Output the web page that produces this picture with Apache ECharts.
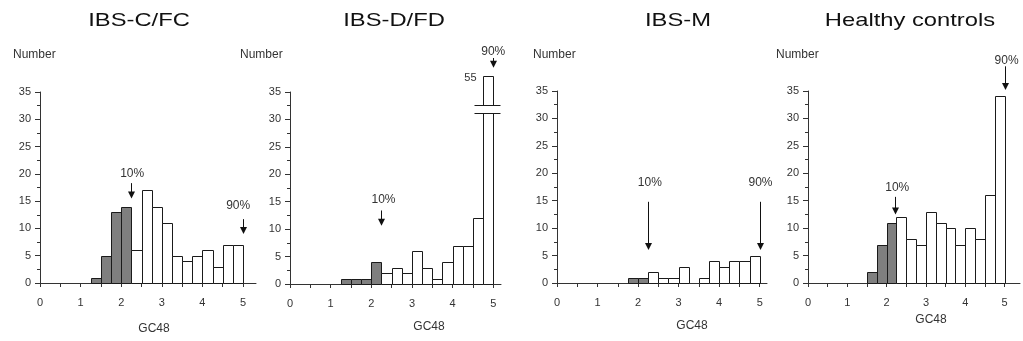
<!DOCTYPE html>
<html><head><meta charset="utf-8">
<script src="https://cdn.jsdelivr.net/npm/echarts@6/dist/echarts.min.js"></script>
<style>html,body{margin:0;padding:0;background:#fff}#c{width:1023px;height:341px}</style>
</head><body><div id="c"></div>
<script>
// ---------- data ----------
const panelTitles = ['IBS-C/FC', 'IBS-D/FD', 'IBS-M', 'Healthy controls'];
const yAxisTitle = 'Number';
const xAxisTitle = 'GC48';
const binStarts = [1.25, 1.5, 1.75, 2.0, 2.25, 2.5, 2.75, 3.0, 3.25, 3.5, 3.75, 4.0, 4.25, 4.5, 4.75];
const binWidth = 0.25;
const lowPercentileCut = 2.25;           // bins below the 10th percentile are shaded
const countsIBSC = [1, 5, 13, 14, 6, 17, 14, 11, 5, 4, 5, 6, 3, 7, 7];
const countsIBSD = [1, 1, 1, 4, 2, 3, 2, 6, 3, 1, 4, 7, 7, 12, 55];
const countsIBSM = [0, 0, 1, 1, 2, 1, 1, 3, 0, 1, 4, 3, 4, 4, 5];
const countsHealthy = [0, 2, 7, 11, 12, 8, 7, 13, 11, 10, 7, 10, 8, 16, 34];
const xTickValues = [0, 0.5, 1, 1.5, 2, 2.5, 3, 3.5, 4, 4.5, 5];
const xLabelValues = [0, 1, 2, 3, 4, 5];
const yTickLabels = [0, 5, 10, 15, 20, 25, 30, 35];
const percentileLabels = ['10%', '90%'];
// percentile arrows: [arrowX, textX, textY, arrowFromY, arrowTipY] in data units
const arrowsIBSC = [[2.25, 2.27, 20.1, 18.3, 15.5], [5.0, 4.88, 14.1, 11.7, 9.0]];
const arrowsIBSD = [[2.25, 2.30, 15.3, 13.4, 10.6], [5.0, 5.0, 42.4, 41.2, 39.4]];
const arrowsIBSM = [[2.25, 2.29, 18.3, 14.8, 6.0], [5.0, 5.02, 18.3, 14.8, 6.0]];
const arrowsHealthy = [[2.2, 2.27, 17.3, 15.7, 12.5], [5.0, 5.05, 40.5, 39.5, 35.2]];
// axis break for bars taller than the axis
const brokenBarShownTop = 38;
const breakLow = 31.1, breakHigh = 32.7;

const panelCounts = [countsIBSC, countsIBSD, countsIBSM, countsHealthy];
const panelArrows = [arrowsIBSC, arrowsIBSD, arrowsIBSM, arrowsHealthy];

// ---------- layout ----------
const layout = [
  { left: 40, top: 92, width: 216, height: 191, xMax: 5.32, titleX: 139, numX: 13, nameX: 154, nameY: 329 },
  { left: 290, top: 92, width: 211, height: 192, xMax: 5.19, titleX: 394, numX: 240, nameX: 429, nameY: 327 },
  { left: 557, top: 91, width: 210, height: 192, xMax: 5.18, titleX: 678, numX: 533, nameX: 692, nameY: 326 },
  { left: 808, top: 91, width: 212, height: 192, xMax: 5.39, titleX: 910, numX: 776, nameX: 931, nameY: 320 }
];
const FONT = '"Liberation Sans", Arial, sans-serif';
const axisColor = '#333';
const yMax = yTickLabels[yTickLabels.length - 1];
const yStep = yTickLabels[1] - yTickLabels[0];

const grids = [], xAxes = [], yAxes = [], series = [], graphics = [];

layout.forEach((L, i) => {
  grids.push({ left: L.left, top: L.top, width: L.width, height: L.height, containLabel: false });
  xAxes.push({
    type: 'value', gridIndex: i, min: 0, max: L.xMax,
    axisLine: { show: true, onZero: false, lineStyle: { color: axisColor, width: 1 } },
    axisTick: { show: true, customValues: xTickValues, length: 4, lineStyle: { color: axisColor } },
    axisLabel: { customValues: xLabelValues, margin: 14, color: '#333', fontSize: 11, fontFamily: FONT },
    splitLine: { show: false }
  });
  yAxes.push({
    type: 'value', gridIndex: i, min: yTickLabels[0], max: yMax, interval: yStep,
    axisLine: { show: true, lineStyle: { color: axisColor, width: 1 } },
    axisTick: { show: true, length: 5, lineStyle: { color: axisColor } },
    minorTick: { show: true, splitNumber: 2, length: 3, lineStyle: { color: axisColor } },
    axisLabel: { margin: 9, color: '#333', fontSize: 11, fontFamily: FONT },
    splitLine: { show: false }
  });

  const counts = panelCounts[i];
  series.push({
    type: 'custom', xAxisIndex: i, yAxisIndex: i, clip: false,
    data: binStarts.map((b, k) => [b, counts[k]]),
    renderItem: function (params, api) {
      const x0 = api.value(0), v = api.value(1);
      if (!v) return null;
      const shown = v > yMax ? brokenBarShownTop : v;
      const pA = api.coord([x0, 0]), pB = api.coord([x0 + binWidth, shown]);
      const xl = Math.round(pA[0]) + 0.5, xr = Math.round(pB[0]) + 0.5;
      const yb = Math.round(pA[1]) + 0.5, yt = Math.round(pB[1]) + 0.5;
      const rect = {
        type: 'rect',
        shape: { x: xl, y: yt, width: xr - xl, height: yb - yt },
        style: { fill: x0 < lowPercentileCut ? '#7f7f7f' : '#ffffff', stroke: '#1a1a1a', lineWidth: 1 }
      };
      if (v <= yMax) return rect;
      const bHi = Math.round(api.coord([x0, breakHigh])[1]) + 0.5;
      const bLo = Math.round(api.coord([x0, breakLow])[1]) + 0.5;
      return {
        type: 'group',
        children: [
          rect,
          { type: 'rect', shape: { x: xl - 1, y: bHi + 0.5, width: xr - xl + 2, height: bLo - bHi - 1 }, style: { fill: '#fff', stroke: null } },
          { type: 'line', shape: { x1: xl - 9, y1: bHi, x2: xr + 7, y2: bHi }, style: { stroke: '#1a1a1a', lineWidth: 1 } },
          { type: 'line', shape: { x1: xl - 9, y1: bLo, x2: xr + 7, y2: bLo }, style: { stroke: '#1a1a1a', lineWidth: 1 } },
          { type: 'text', x: xl - 7, y: yt + 1, style: { text: String(v), fill: '#333', font: '11px ' + FONT, align: 'right', verticalAlign: 'middle' } }
        ]
      };
    }
  });

  series.push({
    type: 'custom', xAxisIndex: i, yAxisIndex: i, clip: false, silent: true,
    data: panelArrows[i],
    renderItem: function (params, api) {
      const ax = api.value(0), tx = api.value(1), ty = api.value(2), fy = api.value(3), tipY = api.value(4);
      const pFrom = api.coord([ax, fy]), pTip = api.coord([ax, tipY]), pText = api.coord([tx, ty]);
      const x = Math.round(pFrom[0]) + 0.5;
      const head = 7;
      return {
        type: 'group',
        children: [
          { type: 'line', shape: { x1: x, y1: pFrom[1], x2: x, y2: pTip[1] - head + 1 }, style: { stroke: '#111', lineWidth: 1 } },
          { type: 'polygon', shape: { points: [[x - 3.5, pTip[1] - head], [x + 3.5, pTip[1] - head], [x, pTip[1]]] }, style: { fill: '#111' } },
          { type: 'text', x: pText[0], y: pText[1], style: { text: percentileLabels[params.dataIndex], fill: '#333', font: '12px ' + FONT, align: 'center', verticalAlign: 'middle' } }
        ]
      };
    }
  });

  graphics.push({ type: 'text', x: L.titleX, y: 20.5, scaleX: 1.25, style: { text: panelTitles[i], fill: '#111', font: '19px ' + FONT, align: 'center', verticalAlign: 'middle' } });
  graphics.push({ type: 'text', x: L.numX, y: 55, style: { text: yAxisTitle, fill: '#333', font: '12px ' + FONT, align: 'left', verticalAlign: 'middle' } });
  graphics.push({ type: 'text', x: L.nameX, y: L.nameY, style: { text: xAxisTitle, fill: '#333', font: '12px ' + FONT, align: 'center', verticalAlign: 'middle' } });
});

const chart = echarts.init(document.getElementById('c'), null, { renderer: 'canvas' });
chart.setOption({
  animation: false,
  backgroundColor: '#fff',
  grid: grids, xAxis: xAxes, yAxis: yAxes, series: series, graphic: graphics
});
</script></body></html>
